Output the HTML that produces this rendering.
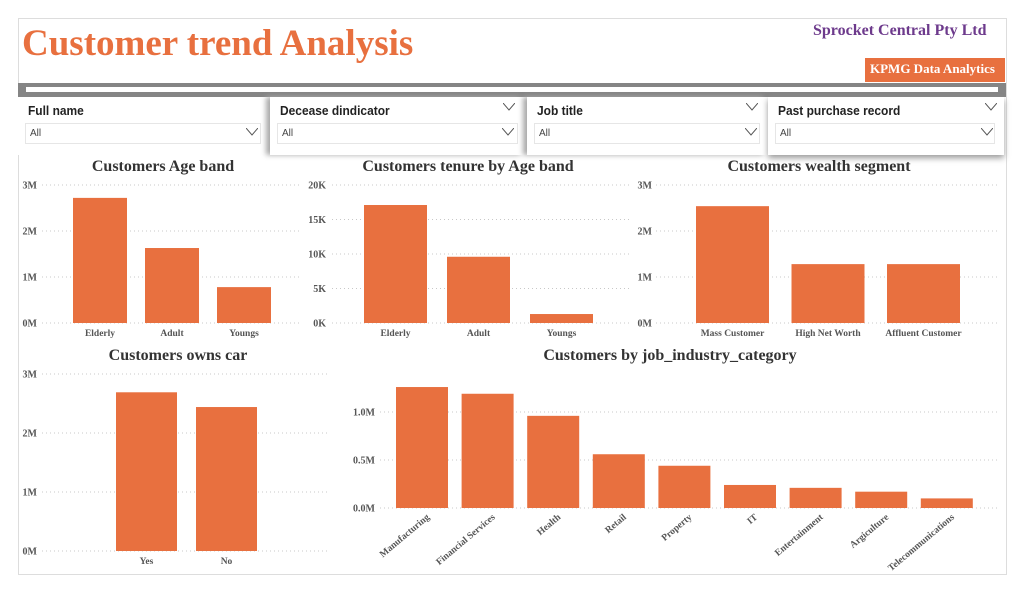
<!DOCTYPE html>
<html><head><meta charset="utf-8"><style>
body{margin:0;width:1024px;height:592px;background:#fff;position:relative;overflow:hidden;font-family:"Liberation Serif",serif}
.abs{position:absolute}
.filter{position:absolute;top:97px;height:58px;background:#fff;font-family:"Liberation Sans",sans-serif}
.filter .lbl{position:absolute;left:10px;top:6px;font-size:13px;font-weight:bold;color:#222;transform:scaleX(0.92);transform-origin:left}
.filter .box{position:absolute;left:7px;top:26px;height:19px;border:1px solid #e6e6e6;font-size:10px;color:#444;padding-left:4px;line-height:20px}
.chev{position:absolute;width:12px;height:8px}
</style></head><body>
<div class="abs" style="left:18px;top:18px;width:987px;height:555px;border:1px solid #ddd"></div>
<div class="abs" style="left:22px;top:22px;font-size:37px;font-weight:bold;color:#e8703f">Customer trend Analysis</div>
<div class="abs" style="left:813px;top:22px;font-size:16px;font-weight:bold;color:#6d3a8c">Sprocket Central Pty Ltd</div>
<div class="abs" style="left:865px;top:58px;width:140px;height:24px;background:#e8703f;color:#fff;font-size:13px;font-weight:bold;line-height:22px;padding-left:5px;box-sizing:border-box">KPMG Data Analytics</div>
<div class="abs" style="left:18px;top:83px;width:988px;height:14px;background:#858585"><div style="position:absolute;left:8px;top:4px;right:8px;height:5px;background:#fff"></div></div>

<div class="filter" style="left:18px;width:250px"><div class="lbl">Full name</div><div class="box" style="width:230px">All</div><svg class="chev" style="left:228px;top:31px"><polyline points="0,0 6,7 12,0" fill="none" stroke="#555" stroke-width="1"/></svg></div>
<div class="filter" style="left:270px;width:254px;box-shadow:-4px 0 5px #aaa"><div class="lbl">Decease dindicator</div><svg class="chev" style="left:233px;top:6px"><polyline points="0,0 6,7 12,0" fill="none" stroke="#555" stroke-width="1"/></svg><div class="box" style="width:235px">All</div><svg class="chev" style="left:232px;top:31px"><polyline points="0,0 6,7 12,0" fill="none" stroke="#555" stroke-width="1"/></svg></div>
<div class="filter" style="left:527px;width:240px;box-shadow:-4px 0 5px #aaa"><div class="lbl">Job title</div><svg class="chev" style="left:219px;top:6px"><polyline points="0,0 6,7 12,0" fill="none" stroke="#555" stroke-width="1"/></svg><div class="box" style="width:220px">All</div><svg class="chev" style="left:218px;top:31px"><polyline points="0,0 6,7 12,0" fill="none" stroke="#555" stroke-width="1"/></svg></div>
<div class="filter" style="left:768px;width:236px;box-shadow:0 3px 6px #999"><div class="lbl">Past purchase record</div><svg class="chev" style="left:217px;top:6px"><polyline points="0,0 6,7 12,0" fill="none" stroke="#555" stroke-width="1"/></svg><div class="box" style="width:214px">All</div><svg class="chev" style="left:213px;top:31px"><polyline points="0,0 6,7 12,0" fill="none" stroke="#555" stroke-width="1"/></svg></div>

<svg id="charts" class="abs" style="left:0;top:0" width="1024" height="592"></svg>
<script>
const ageCats=["Elderly","Adult","Youngs"];
const ageVals=[2.72,1.63,0.78];
const ageTicks=["0M","1M","2M","3M"];
const tenureCats=["Elderly","Adult","Youngs"];
const tenureVals=[17.1,9.6,1.3];
const tenureTicks=["0K","5K","10K","15K","20K"];
const wealthCats=["Mass Customer","High Net Worth","Affluent Customer"];
const wealthVals=[2.54,1.28,1.28];
const wealthTicks=["0M","1M","2M","3M"];
const carCats=["Yes","No"];
const carVals=[2.69,2.44];
const carTicks=["0M","1M","2M","3M"];
const jobCats=["Manufacturing","Financial Services","Health","Retail","Property","IT","Entertainment","Argiculture","Telecommunications"];
const jobVals=[1.26,1.19,0.96,0.56,0.44,0.24,0.21,0.17,0.10];
const jobTicks=["0.0M","0.5M","1.0M"];

const NS="http://www.w3.org/2000/svg";
const svg=document.getElementById('charts');
function mk(t,a,txt){const e=document.createElementNS(NS,t);for(const k in a)e.setAttribute(k,a[k]);if(txt!==undefined)e.textContent=txt;svg.appendChild(e);return e;}
function chart(o){
  const t=mk('text',{x:o.tx,y:o.ty,'text-anchor':'middle','font-size':16,'font-weight':'bold',fill:'#333'},o.title);
  
  
  const y=v=>o.y0-(v/o.tickStep)*o.tickPx;
  o.ticks.forEach((lab,i)=>{
    const yy=y(i*o.tickStep);
    const g=mk('line',{x1:o.gx1,x2:o.gx2,y1:yy,y2:yy,stroke:'#c8c8c8','stroke-dasharray':'1 3'});
    
    
    const l=mk('text',{x:o.lx,y:yy+3.5,'text-anchor':'end','font-size':10,'font-weight':'bold',fill:'#555'},lab);
    
    
  });
  o.cats.forEach((c,i)=>{
    const x=o.bx+i*o.step, top=y(o.vals[i]);
    const r=mk('rect',{x:x,y:top,width:o.bw,height:o.y0-top,fill:'#e8703f'});
    
    
    const cx=x+o.bw/2;
    const a=o.rot?{x:cx+8,y:o.y0+10,'text-anchor':'end',transform:`rotate(-40 ${cx+8} ${o.y0+10})`}:{x:cx,y:o.y0+13,'text-anchor':'middle'};
    Object.assign(a,{'font-size':9.5,'font-weight':'bold',fill:'#555'});
    const l=mk('text',a,c);
    
    
  });
}
chart({name:'age-band',title:'Customers Age band',tx:163,ty:171,cats:ageCats,vals:ageVals,ticks:ageTicks,tickStep:1,tickPx:46,y0:323,gx1:42,gx2:300,lx:37,bx:73,bw:54,step:72});
chart({name:'tenure',title:'Customers tenure by Age band',tx:468,ty:171,cats:tenureCats,vals:tenureVals,ticks:tenureTicks,tickStep:5,tickPx:34.5,y0:323,gx1:332,gx2:630,lx:326,bx:364,bw:63,step:83});
chart({name:'wealth',title:'Customers wealth segment',tx:819,ty:171,cats:wealthCats,vals:wealthVals,ticks:wealthTicks,tickStep:1,tickPx:46,y0:323,gx1:656,gx2:1000,lx:652,bx:696,bw:73,step:95.5});
chart({name:'owns-car',title:'Customers owns car',tx:178,ty:360,cats:carCats,vals:carVals,ticks:carTicks,tickStep:1,tickPx:59,y0:551,gx1:42,gx2:330,lx:37,bx:116,bw:61,step:80});
chart({name:'job-industry',title:'Customers by job_industry_category',tx:670,ty:360,cats:jobCats,vals:jobVals,ticks:jobTicks,tickStep:0.5,tickPx:48,y0:508,gx1:380,gx2:1000,lx:375,bx:396,bw:52,step:65.6,rot:true});
</script>
</body></html>
